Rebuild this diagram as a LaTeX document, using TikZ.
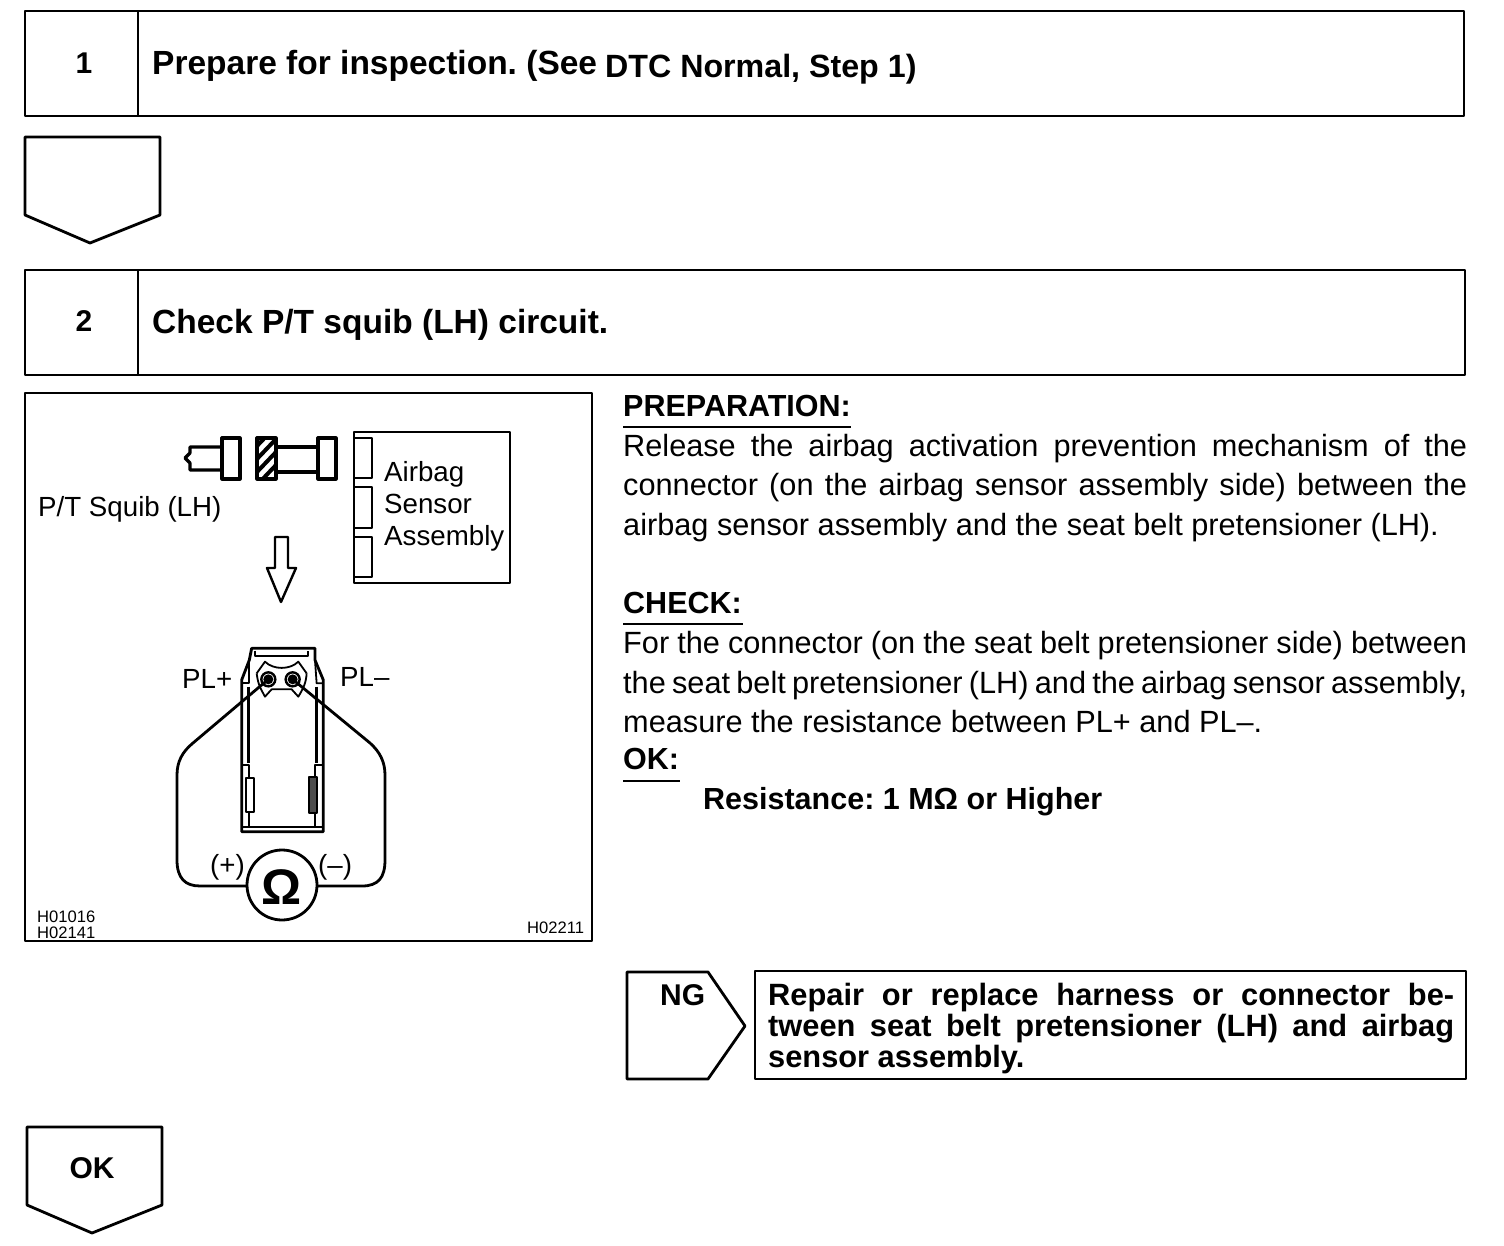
\documentclass[tikz,border=0pt]{standalone}
\usepackage{fontspec}
\setmainfont{Liberation Sans}
\frenchspacing
\newcommand{\fsz}[1]{\fontsize{#1}{#1}\selectfont}
\newcommand{\jline}[1]{\makebox[844pt][s]{#1}}
\tikzset{
  ln/.style={draw=black,line width=2.8pt,line join=round},
  fine/.style={draw=black,line width=1.8pt,line join=round},
  head/.style={anchor=base west,inner sep=0pt,font=\fsz{33.5}\bfseries},
  headb/.style={anchor=base west,inner sep=0pt,font=\fsz{32.2}\bfseries},
  num/.style={anchor=center,inner sep=0pt,font=\fsz{30}\bfseries},
  body/.style={anchor=base west,inner sep=0pt,font=\fsz{30.7}},
  bhead/.style={anchor=base west,inner sep=0pt,font=\fsz{30.5}\bfseries},
  rep/.style={anchor=base west,inner sep=0pt,font=\fsz{30.8}\bfseries},
  lab/.style={anchor=base west,inner sep=0pt,font=\fsz{27.7}},
  tiny/.style={anchor=base west,inner sep=0pt,font=\fsz{16.6}},
  box/.style={ln,rectangle,inner sep=0pt,outer sep=0pt,anchor=north west}
}
\begin{document}
\begin{tikzpicture}[x=1pt,y=-1pt]
\path[use as bounding box,fill=white] (0,0) rectangle (1504,1246);

% step 1
\node[box,minimum width=1439pt,minimum height=105pt] (box1) at (25,11) {};
\draw[ln] (138,11) -- (138,116);
\node[num] (n1) at (84,63) {1};
\node[head] (t1a) at (152,75) {Prepare for inspection. (See};
\node[headb] (t1b) at (605,78) {DTC Normal, Step 1)};
\draw[ln] (25,137) -- (160,137) -- (160,215) -- (90,243) -- (25,215) -- cycle;

% step 2
\node[box,minimum width=1440pt,minimum height=105pt] (box2) at (25,270) {};
\draw[ln] (138,270) -- (138,375);
\node[num] (n2) at (84,321) {2};
\node[head] (t2) at (152,334) {Check P/T squib (LH) circuit.};

% illustration panel
\node[box,minimum width=567pt,minimum height=548pt] (panel) at (25,393) {};
\node[lab] (squib) at (38,516) {P/T Squib (LH)};
\node[lab] (ab1) at (384,481) {Airbag};
\node[lab] (ab2) at (384,513) {Sensor};
\node[lab] (ab3) at (384,545) {Assembly};
\node[lab] (plp) at (182,688) {PL+};
\node[lab] (plm) at (340,686) {PL–};
\node[tiny] (c1) at (37,922) {H01016};
\node[tiny] (c2) at (37,938) {H02141};
\node[tiny] (c3) at (527,933) {H02211};

% connector halves
\draw[ln,line width=3.2pt] (222,447) -- (190,447) -- (190,453) -- (185,458) -- (190,463) -- (190,470) -- (222,470);
\draw[ln,line width=3.2pt] (222,438) rectangle (240,479);
\begin{scope}
  \clip (257,438) rectangle (276,479);
  \foreach \d in {0,13,26,39}
    \draw[line width=4pt] (257,446+\d) -- (276,426+\d);
\end{scope}
\draw[ln,line width=3.2pt] (257,438) rectangle (276,479);
\draw[ln,line width=3.2pt] (276,447) -- (318,447);
\draw[ln,line width=3.2pt] (276,472) -- (318,472);
\draw[ln,line width=3.2pt] (318,438) rectangle (336,479);

% sensor box
\draw[ln] (354,432) rectangle (510,583);
\draw[ln] (354,438) -- (372,438) -- (372,478) -- (354,478);
\draw[ln] (354,487) -- (372,487) -- (372,528) -- (354,528);
\draw[ln] (354,537) -- (372,537) -- (372,577) -- (354,577);

% down arrow
\draw[fine,line width=2.4pt] (275,537) -- (288,537) -- (288,568) -- (296,568) -- (281,602) -- (267,568) -- (275,568) -- cycle;

% connector seen from front (coordinates in zoomed units)
\begin{scope}[shift={(160,630)},x=0.3333pt,y=-0.3333pt]
  \draw[ln] (245,150) -- (245,605) -- (490,605) -- (490,150) -- (465,90) -- (465,55) -- (275,55) -- (268,90) -- cycle;
  \draw[fine] (285,62) -- (285,78) -- (445,78) -- (445,62);
  \draw[fine] (268,90) -- (268,160) -- (248,160);
  \draw[fine] (465,90) -- (470,160) -- (488,160);
  \draw[ln] (265,170) -- (265,400);
  \draw[ln] (470,170) -- (470,400);
  \draw[fine] (248,405) -- (268,405) -- (268,590);
  \draw[fine] (488,405) -- (465,405) -- (465,590);
  \draw[fine] (250,592) -- (485,592);
  \draw[fine,fill=white] (258,445) rectangle (282,545);
  \draw[fine,fill=black!70] (447,440) rectangle (472,550);
  \draw[fine] (290,130) -- (315,95) .. controls (340,120) and (390,120) .. (415,95) -- (440,130);
  \draw[fine] (290,130) .. controls (295,170) and (305,180) .. (315,200) -- (335,178) -- (395,178) -- (415,200) .. controls (430,175) and (438,160) .. (440,130);
  \coordinate (pinp) at (325,148);
  \coordinate (pinm) at (398,148);
  \draw[fine,line width=2.4pt] (pinp) circle (21);
  \draw[fine,line width=2.4pt] (pinm) circle (21);
  \fill (pinp) circle (15);
  \fill (pinm) circle (15);
\end{scope}

% ohmmeter and leads
\node[draw=black,line width=2.8pt,circle,minimum size=70pt,inner sep=0pt,outer sep=0pt] (meter) at (282,885) {};
\node[anchor=center,inner sep=0pt,font=\fsz{50}\bfseries] (omega) at (282,887) {Ω};
\node[lab] (mp) at (210,874) {(+)};
\node[lab] (mm) at (318,874) {(–)};
\draw[ln] (pinp) -- (193,743) .. controls (182,752) and (177,762) .. (177,775) -- (177,860) .. controls (177,878) and (185,886) .. (200,886) -- (meter.west |- 0,886);
\draw[ln] (pinm) -- (370,743) .. controls (380,752) and (385,762) .. (385,775) -- (385,860) .. controls (385,878) and (378,886) .. (362,886) -- (meter.east |- 0,886);

% text right
\node[bhead] (prep) at (623,416) {PREPARATION:};
\draw[fine] (623,427) -- (851,427);
\node[body] (p1) at (623,456) {\jline{Release the airbag activation prevention mechanism of the}};
\node[body] (p2) at (623,495) {\jline{connector (on the airbag sensor assembly side) between the}};
\node[body] (p3) at (623,535) {airbag sensor assembly and the seat belt pretensioner (LH).};
\node[bhead] (chk) at (623,613) {CHECK:};
\draw[fine] (623,624) -- (743,624);
\node[body] (k1) at (623,653) {\jline{For the connector (on the seat belt pretensioner side) between}};
\node[body] (k2) at (623,693) {\jline{the seat belt pretensioner (LH) and the airbag sensor assembly,}};
\node[body] (k3) at (623,732) {measure the resistance between PL+ and PL–.};
\node[bhead] (okl) at (623,769) {OK:};
\draw[fine] (623,781) -- (680,781);
\node[bhead] (res) at (703,809) {Resistance: 1 MΩ or Higher};

% NG
\draw[ln] (627,972) -- (708,972) -- (745,1026) -- (708,1079) -- (627,1079) -- cycle;
\node[anchor=base west,inner sep=0pt,font=\fsz{30}\bfseries] (ng) at (660,1005) {NG};
\node[box,minimum width=711pt,minimum height=108pt] (repair) at (755,971) {};
\node[rep] (r1) at (768,1005) {\makebox[686pt][s]{Repair or replace harness or connector be-}};
\node[rep] (r2) at (768,1036) {\makebox[686pt][s]{tween seat belt pretensioner (LH) and airbag}};
\node[rep] (r3) at (768,1067) {sensor assembly.};

% OK
\draw[ln] (27,1127) -- (162,1127) -- (162,1205) -- (92,1233) -- (27,1205) -- cycle;
\node[num] (okb) at (92,1168) {OK};
\end{tikzpicture}
\end{document}
